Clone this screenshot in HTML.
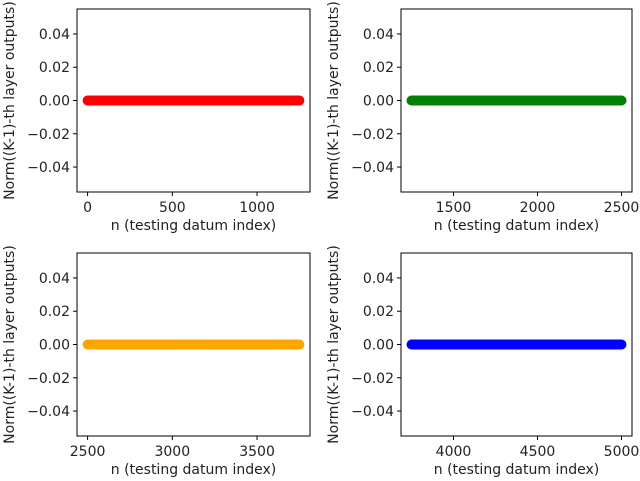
<!DOCTYPE html>
<html><head><meta charset="utf-8"><style>
body{margin:0;background:#fff}
svg{display:block;font-family:"DejaVu Sans","Liberation Sans",sans-serif}
</style></head><body>
<svg id="c" width="640" height="481" viewBox="0 0 640 481"></svg>
<script>
const panelNames=['panel-red','panel-green','panel-orange','panel-blue'];
const colors=['#ff0000','#008000','#ffa500','#0000ff'];
const seriesN=[
 [0,125,250,375,500,625,750,875,1000,1125,1250],
 [1250,1375,1500,1625,1750,1875,2000,2125,2250,2375,2500],
 [2500,2625,2750,2875,3000,3125,3250,3375,3500,3625,3750],
 [3750,3875,4000,4125,4250,4375,4500,4625,4750,4875,5000]];
const seriesV=[
 [0,0,0,0,0,0,0,0,0,0,0],[0,0,0,0,0,0,0,0,0,0,0],
 [0,0,0,0,0,0,0,0,0,0,0],[0,0,0,0,0,0,0,0,0,0,0]];
const xTicks=[[0,500,1000],[1500,2000,2500],[2500,3000,3500],[4000,4500,5000]];
const yTicks=[0.04,0.02,0,-0.02,-0.04];
const yTickLabels=['0.04','0.02','0.00','\u22120.02','\u22120.04'];
const boxes=[[77,9,310,192],[401,9,632,192],[77,253,310,436],[401,253,632,436]];
const NS='http://www.w3.org/2000/svg';
const svg=document.getElementById('c');
function mk(t,a,p){const e=document.createElementNS(NS,t);for(const k in a)e.setAttribute(k,a[k]);(p||svg).appendChild(e);return e;}
for(let p=0;p<4;p++){
 const [L,T,R,B]=boxes[p];
 const ns=seriesN[p],vs=seriesV[p];
 const mn=Math.min(...ns),mx=Math.max(...ns),pad=(mx-mn)*0.05;
 const x0=mn-pad,x1=mx+pad;
 const X=v=>L+(v-x0)/(x1-x0)*(R-L);
 const Y=v=>T+(0.055-v)/0.11*(B-T);
 const g=mk('g',{});
 
 
 for(let i=0;i<ns.length-1;i++){
  const ln=mk('line',{x1:X(ns[i]),y1:Y(vs[i]),x2:X(ns[i+1]),y2:Y(vs[i+1]),stroke:colors[p],'stroke-width':10},g);
  
  
 }
 for(let i=0;i<ns.length;i++){
  const c=mk('circle',{cx:X(ns[i]),cy:Y(vs[i]),r:5,fill:colors[p]},g);
  
  
 }
 const fr=mk('rect',{x:L,y:T,width:R-L,height:B-T,fill:'none',stroke:'#000','stroke-width':1},g);
 
 
 xTicks[p].forEach(v=>{
  const x=X(v);
  mk('line',{x1:x,y1:B,x2:x,y2:B+4,stroke:'#000'},g);
  const t=mk('text',{x:x,y:B+20,'text-anchor':'middle','font-size':14,fill:'#222'},g);
  t.textContent=v;
  
  
 });
 yTicks.forEach((v,i)=>{
  const y=Y(v);
  mk('line',{x1:L-4,y1:y,x2:L,y2:y,stroke:'#000'},g);
  const t=mk('text',{x:L-7,y:y+5,'text-anchor':'end','font-size':14,fill:'#222'},g);
  t.textContent=yTickLabels[i];
  
  
 });
 const xl=mk('text',{x:(L+R)/2,y:B+38,'text-anchor':'middle','font-size':14,fill:'#222'},g);
 xl.textContent='n (testing datum index)';
 
 
 const cx=L-63,cy=(T+B)/2;
 const yl=mk('text',{x:cx,y:cy,'text-anchor':'middle','font-size':14,fill:'#222',transform:`rotate(-90 ${cx} ${cy})`},g);
 yl.textContent='Norm((K-1)-th layer outputs)';
 
 
}
</script>
</body></html>
